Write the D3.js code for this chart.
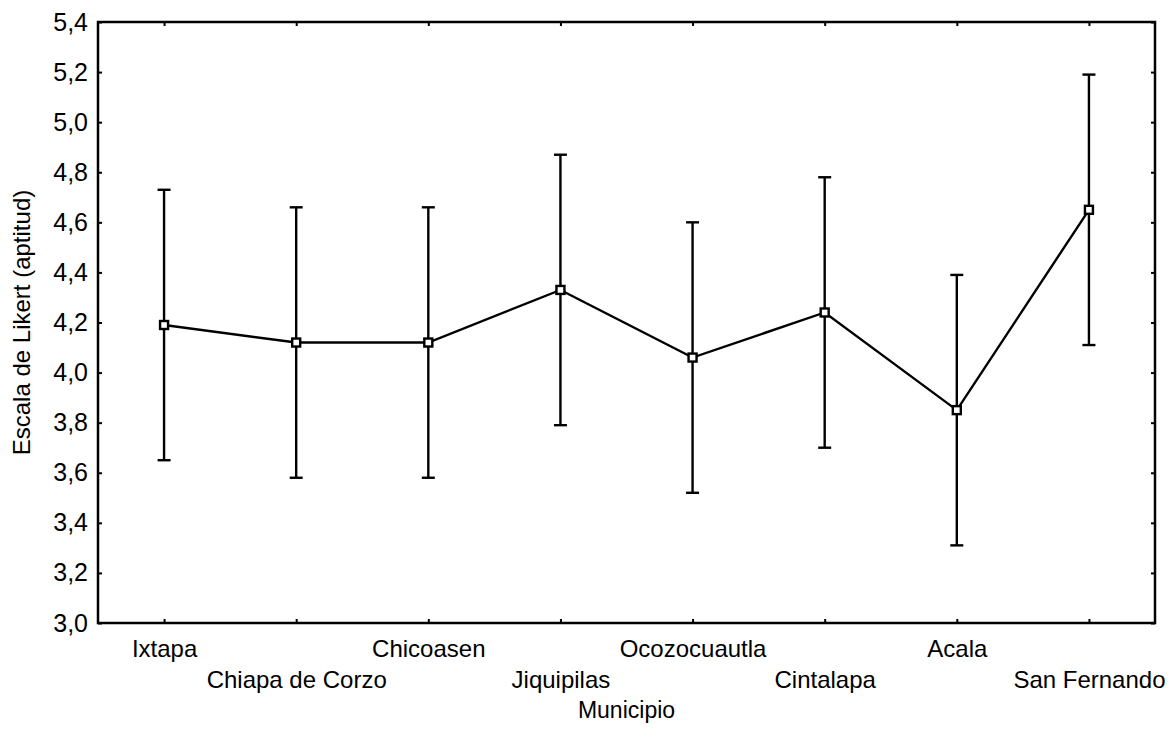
<!DOCTYPE html>
<html>
<head>
<meta charset="utf-8">
<script src="https://cdn.jsdelivr.net/npm/d3@7"></script>
<style>
  body { margin: 0; background: #fff; }
  svg { font-family: "Liberation Sans", Arial, sans-serif; }
</style>
</head>
<body>
<div id="chart"></div>
<script>
// data
const municipios = ["Ixtapa", "Chiapa de Corzo", "Chicoasen", "Jiquipilas", "Ocozocuautla", "Cintalapa", "Acala", "San Fernando"];
const means = [4.19, 4.12, 4.12, 4.33, 4.06, 4.24, 3.85, 4.65];
const upper = [4.73, 4.66, 4.66, 4.87, 4.60, 4.78, 4.39, 5.19];
const lower = [3.65, 3.58, 3.58, 3.79, 3.52, 3.70, 3.31, 4.11];
const yTicks = [3.0, 3.2, 3.4, 3.6, 3.8, 4.0, 4.2, 4.4, 4.6, 4.8, 5.0, 5.2, 5.4];

const data = municipios.map((m, i) => ({name: m, mean: means[i], hi: upper[i], lo: lower[i]}));

// dimensions
const margin = {top: 22, right: 16, bottom: 117, left: 98},
    width = 1171 - margin.left - margin.right,
    height = 740 - margin.top - margin.bottom;

const svg = d3.select("#chart")
  .append("svg")
  .attr("width", width + margin.left + margin.right)
  .attr("height", height + margin.top + margin.bottom)
  .append("g")
  .attr("transform", `translate(${margin.left},${margin.top})`);

const x = d3.scalePoint()
  .domain(municipios)
  .range([0, width])
  .padding(0.5);

const y = d3.scaleLinear()
  .domain([3.0, 5.4])
  .range([height, 0]);

const fmt = d => d3.format(".1f")(d).replace(".", ",");

// axes, ticks pointing inward
const yAxis = svg.append("g")
  .attr("class", "axis")
  .call(d3.axisLeft(y).tickValues(yTicks).tickSizeInner(-4).tickSizeOuter(0).tickPadding(10).tickFormat(fmt));

svg.append("g")
  .attr("class", "axis")
  .attr("transform", `translate(${width},0)`)
  .call(d3.axisRight(y).tickValues(yTicks).tickSizeInner(-4).tickSizeOuter(0).tickFormat(""));

svg.append("g")
  .attr("class", "axis")
  .call(d3.axisTop(x).tickSizeInner(-4).tickSizeOuter(0).tickFormat(""));

const xAxis = svg.append("g")
  .attr("class", "axis")
  .attr("transform", `translate(0,${height})`)
  .call(d3.axisBottom(x).tickSizeInner(-4).tickSizeOuter(0));

svg.selectAll(".axis path").remove();
svg.selectAll(".axis line").attr("stroke", "#000").attr("stroke-width", 2);
svg.selectAll(".axis text").attr("fill", "#000");
svg.selectAll(".axis").attr("font-family", null).attr("font-size", null);

xAxis.selectAll("text")
  .attr("y", (d, i) => i % 2 ? 65 : 34)
  .attr("dy", 0)
  .style("font-size", "24px");

yAxis.selectAll("text")
  .style("font-size", "25px");

// frame
svg.append("rect")
  .attr("x", 0)
  .attr("y", 0)
  .attr("width", width)
  .attr("height", height)
  .attr("fill", "none")
  .attr("stroke", "#000")
  .attr("stroke-width", 2.5);

// error bars
const bars = svg.append("g")
  .selectAll("g")
  .data(data)
  .join("g")
  .attr("stroke", "#000")
  .attr("stroke-width", 2.4);

bars.append("line")
  .attr("x1", d => x(d.name))
  .attr("x2", d => x(d.name))
  .attr("y1", d => y(d.hi))
  .attr("y2", d => y(d.lo));

bars.append("line")
  .attr("x1", d => x(d.name) - 6.5)
  .attr("x2", d => x(d.name) + 6.5)
  .attr("y1", d => y(d.hi))
  .attr("y2", d => y(d.hi));

bars.append("line")
  .attr("x1", d => x(d.name) - 6.5)
  .attr("x2", d => x(d.name) + 6.5)
  .attr("y1", d => y(d.lo))
  .attr("y2", d => y(d.lo));

// mean line
svg.append("path")
  .datum(data)
  .attr("class", "meanline")
  .attr("fill", "none")
  .attr("stroke", "#000")
  .attr("stroke-width", 2.4)
  .attr("d", d3.line().x(d => x(d.name)).y(d => y(d.mean)));

// markers
svg.selectAll("rect.marker")
  .data(data)
  .join("rect")
  .attr("class", "marker")
  .attr("x", d => x(d.name) - 4)
  .attr("y", d => y(d.mean) - 4)
  .attr("width", 8)
  .attr("height", 8)
  .attr("fill", "#fff")
  .attr("stroke", "#000")
  .attr("stroke-width", 2.4);

// axis titles
svg.append("text")
  .attr("x", width / 2)
  .attr("y", height + 95)
  .attr("text-anchor", "middle")
  .style("font-size", "23px")
  .text("Municipio");

svg.append("text")
  .attr("transform", `translate(${-margin.left + 30},${height / 2}) rotate(-90)`)
  .attr("text-anchor", "middle")
  .style("font-size", "24px")
  .text("Escala de Likert (aptitud)");
</script>
</body>
</html>
